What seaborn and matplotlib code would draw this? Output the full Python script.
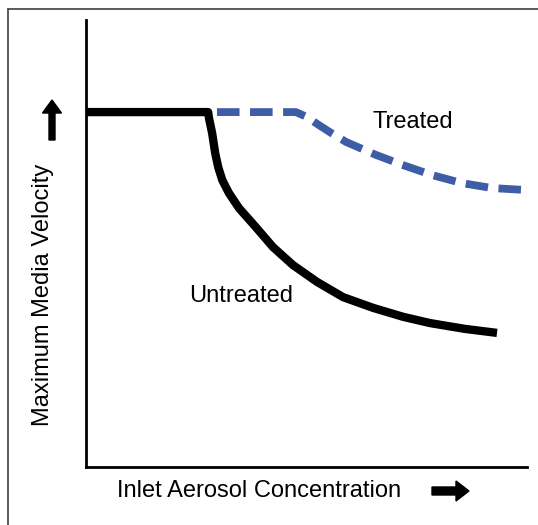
import matplotlib
matplotlib.use("Agg")
import matplotlib.pyplot as plt
import seaborn as sns
import pandas as pd
from matplotlib.patches import FancyArrow
from matplotlib.lines import Line2D

# (x, y on a 0-100 scale of the axes)
untreated_x = [0, 27.7, 27.9, 28.6, 29.3, 30.0, 30.9, 32.4, 34.7, 38.3, 42.4, 46.9, 52.4, 58.3, 65.1, 71.9, 78.0, 85.9, 93.2]
untreated_y = [79.4, 79.4, 78.0, 74.7, 70.2, 67.0, 64.2, 61.3, 57.9, 53.9, 49.2, 45.2, 41.4, 38.0, 35.6, 33.6, 32.2, 30.9, 30.0]
treated_x = [29.7, 47.6, 50.1, 52.8, 55.8, 59.0, 65.8, 71.7, 78.5, 85.3, 92.1, 99.2]
treated_y = [79.4, 79.4, 78.3, 76.5, 74.6, 72.7, 69.8, 67.6, 65.3, 63.5, 62.4, 62.0]

sns.set_style("white")
plt.rcParams["font.family"] = ["Liberation Sans", "DejaVu Sans"]
plt.rcParams["text.color"] = "black"

fig = plt.figure(figsize=(5.38, 5.25), dpi=100)
ax = fig.add_axes([86 / 538, 58 / 525, 441 / 538, 447 / 525])

df_u = pd.DataFrame({"x": untreated_x, "y": untreated_y})
df_t = pd.DataFrame({"x": treated_x, "y": treated_y})
sns.lineplot(data=df_u, x="x", y="y", sort=False, color="black", lw=6,
             ax=ax, solid_joinstyle="round", solid_capstyle="butt")
sns.lineplot(data=df_t, x="x", y="y", sort=False, color="#3D5DA6", lw=5.6,
             ax=ax, dashes=False, linestyle=(0, (2.9, 1.35)), dash_capstyle="butt")

ax.set_xlim(0, 100)
ax.set_ylim(0, 100)
ax.set_xticks([])
ax.set_yticks([])
ax.set_xlabel("")
ax.set_ylabel("")
for s in ["top", "right"]:
    ax.spines[s].set_visible(False)
for s in ["left", "bottom"]:
    ax.spines[s].set_color("black")
    ax.spines[s].set_linewidth(2)

ax.text(74.1, 77.2, "Treated", fontsize=17, ha="center", va="center", color="black")
ax.text(35.1, 38.3, "Untreated", fontsize=17, ha="center", va="center", color="black")

fig.text(259 / 538, 34 / 525, "Inlet Aerosol Concentration", fontsize=17,
         ha="center", va="center", color="black")
fig.text(43 / 538, 230 / 525, "Maximum Media Velocity", fontsize=17,
         ha="center", va="center", rotation=90, color="black")

# arrows next to the axis titles, in figure inches
fig.add_artist(FancyArrow(4.32, 0.34, 0.24, 0, width=0.08, head_width=0.2,
                          head_length=0.13, length_includes_head=False,
                          color="black", transform=fig.dpi_scale_trans))
fig.add_artist(FancyArrow(0.52, 3.85, 0, 0.27, width=0.06, head_width=0.19,
                          head_length=0.13, length_includes_head=False,
                          color="black", transform=fig.dpi_scale_trans))

# frame round the picture (cut off at right and bottom)
fig.add_artist(Line2D([8 / 538, 8 / 538], [0, 516 / 525], color="#404040", lw=1.2,
                      transform=fig.transFigure))
fig.add_artist(Line2D([8 / 538, 1], [516 / 525, 516 / 525], color="#404040", lw=1.2,
                      transform=fig.transFigure))

fig.savefig("out.png", dpi=100)
